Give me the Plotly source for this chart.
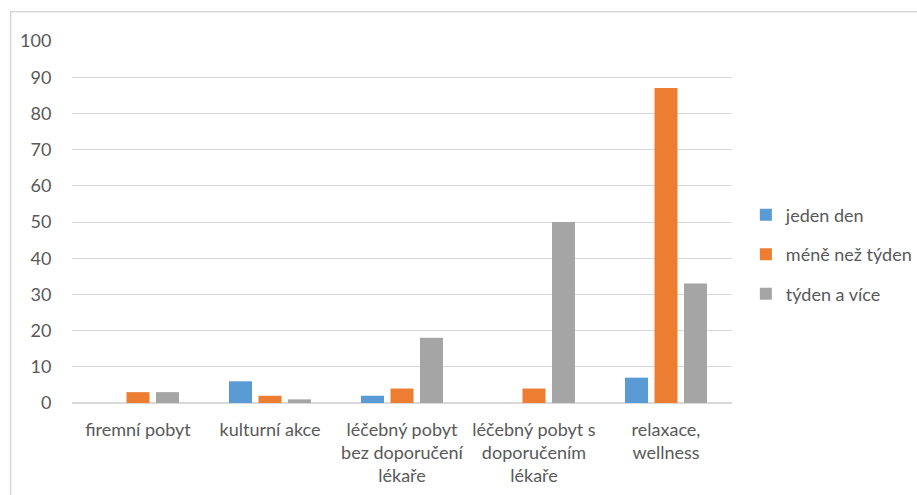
import plotly.graph_objects as go

categories = [
    "firemní pobyt",
    "kulturní akce",
    "léčebný pobyt<br>bez doporučení<br>lékaře",
    "léčebný pobyt s<br>doporučením<br>lékaře",
    "relaxace,<br>wellness",
]
jeden_den = [0, 6, 2, 0, 7]
mene_nez_tyden = [3, 2, 4, 4, 87]
tyden_a_vice = [3, 1, 18, 50, 33]
y_ticks = [0, 10, 20, 30, 40, 50, 60, 70, 80, 90, 100]

series = [
    ("jeden den", jeden_den, "#5B9BD5"),
    ("méně než týden", mene_nez_tyden, "#ED7D31"),
    ("týden a více", tyden_a_vice, "#A5A5A5"),
]

FONT = "Lato, 'Open Sans', sans-serif"
TEXT = "#595959"
SIZE = 18

fig = go.Figure()
for i, (name, vals, color) in enumerate(series):
    fig.add_trace(go.Bar(
        x=categories, y=vals, name=name, legendgroup=f"g{i}",
        marker=dict(color=color, line=dict(width=0)),
    ))

fig.update_layout(
    width=917, height=495,
    margin=dict(l=72, r=185, t=41, b=92, autoexpand=False),
    paper_bgcolor="white", plot_bgcolor="white",
    barmode="group", bargap=0.33, bargroupgap=0.22,
    font=dict(family=FONT, size=SIZE, color=TEXT),
    showlegend=True,
    legend=dict(
        x=1.021, y=0.57, xanchor="left", yanchor="top",
        font=dict(family=FONT, size=SIZE, color=TEXT),
        tracegroupgap=13, itemwidth=30,
        bgcolor="rgba(0,0,0,0)",
    ),
    xaxis=dict(
        showgrid=False, showline=False, zeroline=False,
        ticks="outside", ticklen=10, tickcolor="rgba(0,0,0,0)",
        tickfont=dict(family=FONT, size=SIZE, color=TEXT),
    ),
    yaxis=dict(
        range=[0, 100], tickvals=y_ticks,
        showgrid=True, gridcolor="#D9D9D9", gridwidth=1,
        zeroline=True, zerolinecolor="#D9D9D9", zerolinewidth=1.5,
        showline=False,
        ticks="outside", ticklen=16, tickcolor="rgba(0,0,0,0)",
        tickfont=dict(family=FONT, size=SIZE, color=TEXT),
    ),
    shapes=[dict(
        type="rect", xref="paper", yref="paper",
        x0=-0.093, x1=1.6, y0=-0.5, y1=1.081,
        line=dict(color="#D9D9D9", width=1.5), layer="below",
    )],
)

fig.write_html("out.html")
